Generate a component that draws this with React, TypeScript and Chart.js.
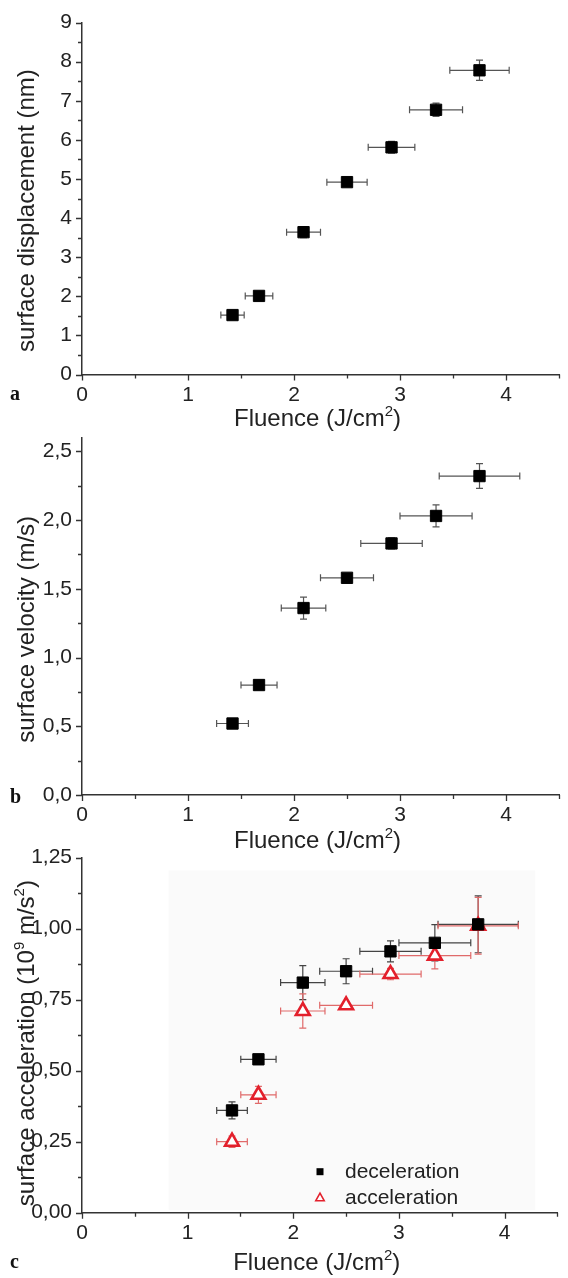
import React, { useEffect, useRef } from 'react';
import { Chart, registerables } from 'chart.js';

Chart.register(...registerables);

// ---------- data ----------
const fluence = [1.42, 1.67, 2.09, 2.5, 2.92, 3.34, 3.75];

// panel a
const fluenceErrA = [0.11, 0.13, 0.16, 0.19, 0.22, 0.25, 0.28];
const displacement = [1.52, 2.01, 3.64, 4.92, 5.81, 6.77, 7.78];
const displacementErr = [0.08, 0.08, 0.14, 0.08, 0.15, 0.17, 0.26];

// panel b
const fluenceErrB = [0.15, 0.17, 0.21, 0.25, 0.29, 0.34, 0.38];
const velocity = [0.52, 0.8, 1.36, 1.58, 1.83, 2.03, 2.32];
const velocityErr = [0.03, 0.03, 0.08, 0.03, 0.04, 0.08, 0.09];

// panel c
const fluenceErrC = [0.145, 0.167, 0.21, 0.25, 0.29, 0.34, 0.38];
const deceleration = [0.36, 0.54, 0.81, 0.85, 0.92, 0.95, 1.015];
const decelerationErr = [0.03, 0.01, 0.06, 0.044, 0.037, 0.064, 0.1];
const acceleration = [0.25, 0.415, 0.71, 0.73, 0.84, 0.905, 1.01];
const accelerationErr = [0.02, 0.03, 0.06, 0.01, 0.02, 0.047, 0.1];

// ticks
const xMajorTicks = [0, 1, 2, 3, 4];
const xMinorTicks = [0.5, 1.5, 2.5, 3.5, 4.5];
const yMajorA = [0, 1, 2, 3, 4, 5, 6, 7, 8, 9];
const yMinorA = [0.5, 1.5, 2.5, 3.5, 4.5, 5.5, 6.5, 7.5, 8.5];
const yMajorB = [0, 0.5, 1, 1.5, 2, 2.5];
const yMinorB = [0.25, 0.75, 1.25, 1.75, 2.25];
const yMajorC = [0, 0.25, 0.5, 0.75, 1, 1.25];
const yMinorC = [0.125, 0.375, 0.625, 0.875, 1.125];

const SANS = '"Liberation Sans", Arial, Helvetica, sans-serif';
const SERIF = '"Liberation Serif", "Times New Roman", serif';
const TEXT = '#222';
const AXIS = '#333';

type Seg = { t: string; sup?: boolean };

function drawRich(ctx: any, segs: Seg[], size: number, x: number, y: number) {
  const widths: number[] = [];
  let total = 0;
  segs.forEach((s) => {
    ctx.font = `${s.sup ? Math.round(size * 0.64) : size}px ${SANS}`;
    const w = ctx.measureText(s.t).width;
    widths.push(w);
    total += w;
  });
  let cx = x - total / 2;
  ctx.textAlign = 'left';
  ctx.textBaseline = 'alphabetic';
  segs.forEach((s, i) => {
    ctx.font = `${s.sup ? Math.round(size * 0.64) : size}px ${SANS}`;
    ctx.fillText(s.t, cx, s.sup ? y - size * 0.4 : y);
    cx += widths[i];
  });
}

type Series = {
  label: string;
  values: number[];
  xErr: number[];
  yErr: number[];
  style: string;
  radius: number;
  fill: string;
  stroke: string;
  bw: number;
  errColor: string;
};

type Panel = {
  letter: string;
  canvasTop: number;
  canvasHeight: number;
  plotTop: number;
  plotBottom: number;
  yMax: number;
  yMajor: number[];
  yMinor: number[];
  yFmt: (v: number) => string;
  yTitle: Seg[];
  yTitleShift: number;
  xTitleBaseline: number;
  letterBaseline: number;
  series: Series[];
  legend?: boolean;
  shade?: boolean;
};

const xTitle: Seg[] = [{ t: 'Fluence (J/cm' }, { t: '2', sup: true }, { t: ')' }];

const panels: Panel[] = [
  {
    letter: 'a',
    canvasTop: 0,
    canvasHeight: 440,
    plotTop: 17,
    plotBottom: 374.5,
    yMax: 9,
    yMajor: yMajorA,
    yMinor: yMinorA,
    yFmt: (v) => String(v),
    yTitle: [{ t: 'surface displacement (nm)' }],
    yTitleShift: 12,
    xTitleBaseline: 426,
    letterBaseline: 400,
    series: [
      {
        label: 'displacement',
        values: displacement,
        xErr: fluenceErrA,
        yErr: displacementErr,
        style: 'rect',
        radius: 8,
        fill: '#000',
        stroke: '#000',
        bw: 1,
        errColor: '#555',
      },
    ],
  },
  {
    letter: 'b',
    canvasTop: 415,
    canvasHeight: 445,
    plotTop: 436.7,
    plotBottom: 795,
    yMax: 2.6,
    yMajor: yMajorB,
    yMinor: yMinorB,
    yFmt: (v) => v.toFixed(1).replace('.', ','),
    yTitle: [{ t: 'surface velocity (m/s)' }],
    yTitleShift: 13,
    xTitleBaseline: 848,
    letterBaseline: 803,
    series: [
      {
        label: 'velocity',
        values: velocity,
        xErr: fluenceErrB,
        yErr: velocityErr,
        style: 'rect',
        radius: 8,
        fill: '#000',
        stroke: '#000',
        bw: 1,
        errColor: '#555',
      },
    ],
  },
  {
    letter: 'c',
    canvasTop: 835,
    canvasHeight: 443,
    plotTop: 856,
    plotBottom: 1212.7,
    yMax: 1.25,
    yMajor: yMajorC,
    yMinor: yMinorC,
    yFmt: (v) => v.toFixed(2).replace('.', ','),
    yTitle: [
      { t: 'surface acceleration (10' },
      { t: '9', sup: true },
      { t: ' m/s' },
      { t: '2', sup: true },
      { t: ')' },
    ],
    yTitleShift: 8,
    xTitleBaseline: 1270,
    letterBaseline: 1268,
    legend: true,
    shade: true,
    series: [
      {
        label: 'deceleration',
        values: deceleration,
        xErr: fluenceErrC,
        yErr: decelerationErr,
        style: 'rect',
        radius: 8,
        fill: '#000',
        stroke: '#000',
        bw: 1,
        errColor: '#444',
      },
      {
        label: 'acceleration',
        values: acceleration,
        xErr: fluenceErrC,
        yErr: accelerationErr,
        style: 'triangle',
        radius: 8,
        fill: '#fff',
        stroke: '#e3202c',
        bw: 2.6,
        errColor: '#e06a6a',
      },
    ],
  },
];

function makeDecor(p: Panel) {
  const off = p.canvasTop;
  return {
    id: 'decor_' + p.letter,
    beforeDatasetsDraw(chart: any) {
      const { ctx, scales } = chart;
      const x = scales.x;
      const y = scales.y;
      ctx.save();
      if (p.shade) {
        const l = x.getPixelForValue(0.82);
        const r = x.getPixelForValue(4.29);
        const t = y.getPixelForValue(1.205);
        const b = y.getPixelForValue(0.01);
        ctx.fillStyle = '#fafafa';
        ctx.fillRect(l, t, r - l, b - t);
      }
      const cap = 3.5;
      chart.data.datasets.forEach((ds: any) => {
        ctx.strokeStyle = ds.errColor;
        ctx.lineWidth = 1.2;
        ds.data.forEach((pt: any, i: number) => {
          const px = x.getPixelForValue(pt.x);
          const py = y.getPixelForValue(pt.y);
          const xl = x.getPixelForValue(pt.x - ds.xErr[i]);
          const xr = x.getPixelForValue(pt.x + ds.xErr[i]);
          const yt = y.getPixelForValue(pt.y + ds.yErr[i]);
          const yb = y.getPixelForValue(pt.y - ds.yErr[i]);
          ctx.beginPath();
          ctx.moveTo(xl, py);
          ctx.lineTo(xr, py);
          ctx.moveTo(xl, py - cap);
          ctx.lineTo(xl, py + cap);
          ctx.moveTo(xr, py - cap);
          ctx.lineTo(xr, py + cap);
          ctx.moveTo(px, yt);
          ctx.lineTo(px, yb);
          ctx.moveTo(px - cap, yt);
          ctx.lineTo(px + cap, yt);
          ctx.moveTo(px - cap, yb);
          ctx.lineTo(px + cap, yb);
          ctx.stroke();
        });
      });
      ctx.restore();
    },
    afterDraw(chart: any) {
      const { ctx, chartArea, scales } = chart;
      const x = scales.x;
      const y = scales.y;
      ctx.save();
      ctx.strokeStyle = AXIS;
      ctx.lineWidth = 1.3;
      ctx.beginPath();
      xMajorTicks.forEach((v) => {
        const px = Math.round(x.getPixelForValue(v)) + 0.5;
        ctx.moveTo(px, chartArea.bottom);
        ctx.lineTo(px, chartArea.bottom + 6);
      });
      xMinorTicks.forEach((v) => {
        const px = Math.round(x.getPixelForValue(v)) + 0.5;
        ctx.moveTo(px, chartArea.bottom);
        ctx.lineTo(px, chartArea.bottom + 4);
      });
      p.yMajor.forEach((v) => {
        const py = Math.round(y.getPixelForValue(v)) + 0.5;
        ctx.moveTo(chartArea.left, py);
        ctx.lineTo(chartArea.left - 6, py);
      });
      p.yMinor.forEach((v) => {
        const py = Math.round(y.getPixelForValue(v)) + 0.5;
        ctx.moveTo(chartArea.left, py);
        ctx.lineTo(chartArea.left - 4, py);
      });
      ctx.stroke();

      ctx.fillStyle = TEXT;
      drawRich(ctx, xTitle, 24, (chartArea.left + chartArea.right) / 2 - 3, p.xTitleBaseline - off);
      ctx.save();
      const cy = (chartArea.top + chartArea.bottom) / 2 + p.yTitleShift;
      ctx.translate(34, cy);
      ctx.rotate(-Math.PI / 2);
      drawRich(ctx, p.yTitle, 24, 0, 0);
      ctx.restore();
      ctx.font = `bold 20px ${SERIF}`;
      ctx.textAlign = 'left';
      ctx.textBaseline = 'alphabetic';
      ctx.fillStyle = '#111';
      ctx.fillText(p.letter, 10, p.letterBaseline - off);

      if (p.legend) {
        const items = chart.data.datasets;
        const mx = 320;
        const rows = [1171.7 - off, 1197.7 - off];
        items.forEach((ds: any, i: number) => {
          const ry = rows[i];
          ctx.save();
          if (ds.pointStyle === 'rect') {
            ctx.fillStyle = '#000';
            ctx.fillRect(mx - 3.5, ry - 3.5, 7, 7);
          } else {
            ctx.strokeStyle = ds.borderColor;
            ctx.lineWidth = 1.6;
            ctx.fillStyle = '#fff';
            ctx.beginPath();
            ctx.moveTo(mx, ry - 4.5);
            ctx.lineTo(mx + 4.2, ry + 3);
            ctx.lineTo(mx - 4.2, ry + 3);
            ctx.closePath();
            ctx.fill();
            ctx.stroke();
          }
          ctx.restore();
          ctx.fillStyle = TEXT;
          ctx.font = `21px ${SANS}`;
          ctx.textAlign = 'left';
          ctx.textBaseline = 'alphabetic';
          ctx.fillText(ds.label, 345, ry + 6);
        });
      }
      ctx.restore();
    },
  };
}

function PanelChart({ p }: { p: Panel }) {
  const ref = useRef<HTMLCanvasElement | null>(null);
  useEffect(() => {
    const canvas = ref.current;
    if (!canvas) return;
    const H = p.canvasHeight;
    const plotTop = p.plotTop - p.canvasTop;
    const plotBottom = p.plotBottom - p.canvasTop;
    const chart = new Chart(canvas, {
      type: 'scatter',
      data: {
        datasets: p.series.map((s) => ({
          label: s.label,
          data: fluence.map((fx, i) => ({ x: fx, y: s.values[i] })),
          pointStyle: s.style,
          pointRadius: s.radius,
          pointHoverRadius: s.radius,
          backgroundColor: s.fill,
          borderColor: s.stroke,
          borderWidth: s.bw,
          xErr: s.xErr,
          yErr: s.yErr,
          errColor: s.errColor,
        })) as any,
      },
      options: {
        responsive: false,
        animation: false,
        events: [],
        layout: { padding: { top: plotTop, right: 1, left: 0, bottom: 0 } },
        plugins: { legend: { display: false }, tooltip: { enabled: false } },
        scales: {
          x: {
            type: 'linear',
            min: 0,
            max: 4.5,
            grid: { display: false, drawTicks: false },
            border: { display: true, color: AXIS, width: 1.5 },
            afterBuildTicks: (s: any) => {
              s.ticks = xMajorTicks.map((v) => ({ value: v }));
            },
            afterFit: (s: any) => {
              s.height = H - plotBottom;
            },
            ticks: {
              autoSkip: false,
              maxRotation: 0,
              padding: 8,
              color: TEXT,
              font: { family: SANS, size: 21 },
              callback: (v: any) => String(v),
            },
          },
          y: {
            type: 'linear',
            min: 0,
            max: p.yMax,
            grid: { display: false, drawTicks: false },
            border: { display: true, color: AXIS, width: 1.5 },
            afterBuildTicks: (s: any) => {
              s.ticks = p.yMajor.map((v) => ({ value: v }));
            },
            afterFit: (s: any) => {
              s.width = 82;
            },
            ticks: {
              autoSkip: false,
              padding: 10,
              color: TEXT,
              font: { family: SANS, size: 21 },
              callback: (v: any) => p.yFmt(Number(v)),
            },
          },
        },
      } as any,
      plugins: [makeDecor(p)],
    });
    return () => chart.destroy();
  }, [p]);
  return (
    <canvas
      ref={ref}
      width={568}
      height={p.canvasHeight}
      style={{ position: 'absolute', left: 0, top: p.canvasTop, width: 568, height: p.canvasHeight }}
    />
  );
}

export default function App() {
  return (
    <div style={{ position: 'absolute', left: 0, top: 0, width: 568, height: 1278, background: '#fff', overflow: 'hidden' }}>
      {panels.map((p) => (
        <PanelChart key={p.letter} p={p} />
      ))}
    </div>
  );
}
